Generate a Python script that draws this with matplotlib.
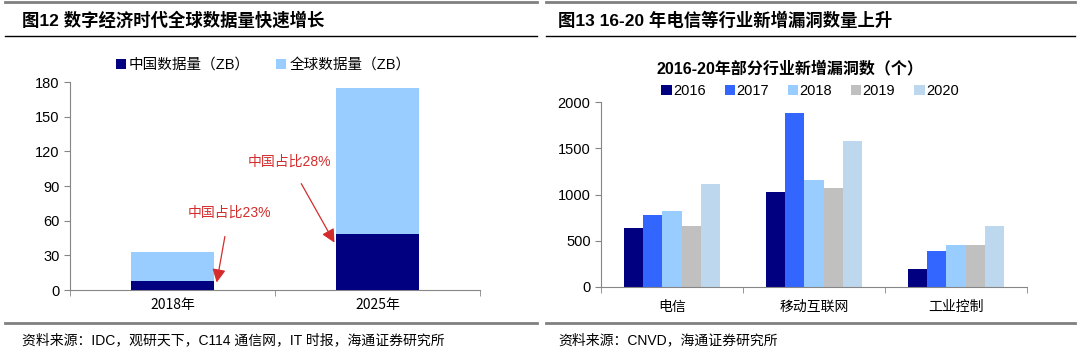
import numpy as np
import matplotlib.pyplot as plt
from matplotlib.lines import Line2D

plt.rcParams['font.family'] = ['Liberation Sans', 'Noto Sans CJK SC', 'DejaVu Sans']
CJK = ['Noto Sans CJK SC', 'DejaVu Sans']

# left chart data
years = ['2018年', '2025年']
global_zb = [33, 175]
china_zb = [7.6, 48.6]
share_labels = ['中国占比23%', '中国占比28%']

# right chart data
industries = ['电信', '移动互联网', '工业控制']
series_years = ['2016', '2017', '2018', '2019', '2020']
vulns = {
    '2016': [640, 1031, 190],
    '2017': [782, 1881, 393],
    '2018': [818, 1160, 454],
    '2019': [659, 1070, 454],
    '2020': [1114, 1575, 659],
}
colors_r = ['#000080', '#3366ff', '#99ccff', '#c0c0c0', '#bdd7ee']

fig = plt.figure(figsize=(10.8, 3.55), dpi=100)

# frame lines and titles
def hline(y, x0, x1, color, lw):
    fig.add_artist(Line2D([x0 / 1080, x1 / 1080], [1 - y / 355, 1 - y / 355],
                          color=color, lw=lw, transform=fig.transFigure))

for x0, x1 in [(5, 537), (546, 1075)]:
    hline(2, x0, x1, '#808080', 2)
    hline(36, x0, x1, '#000000', 1)
    hline(323, x0, x1, '#808080', 2)

fig.text(22 / 1080, 1 - 20 / 355, '图12 数字经济时代全球数据量快速增长', fontsize=12.5,
         fontweight='bold', va='center', ha='left')
fig.text(558 / 1080, 1 - 20 / 355, '图13 16-20 年电信等行业新增漏洞数量上升', fontsize=12.5,
         fontweight='bold', va='center', ha='left')
fig.text(22 / 1080, 1 - 340 / 355, '资料来源：IDC，观研天下，C114 通信网，IT 时报，海通证券研究所',
         fontsize=10, va='center', ha='left')
fig.text(558 / 1080, 1 - 340 / 355, '资料来源：CNVD，海通证券研究所',
         fontsize=10, va='center', ha='left')

spine_c = '#868686'

# ---- left chart
ax1 = fig.add_axes([70 / 1080, 1 - 290 / 355, 410 / 1080, 208 / 355])
x = np.arange(len(years))
w = 0.405
ax1.bar(x, global_zb, w, color='#99ccff', label='全球数据量（ZB）', zorder=2)
ax1.bar(x, china_zb, w, color='#000080', label='中国数据量（ZB）', zorder=3)
ax1.set_xlim(-0.5, 1.5)
ax1.set_ylim(0, 180)
ax1.set_yticks(np.arange(0, 181, 30))
ax1.set_xticks(x)
ax1.set_xticklabels(years, family=CJK, fontsize=10)
ax1.set_xticks([-0.5, 0.5, 1.5], minor=True)
ax1.tick_params(axis='x', which='major', length=0, pad=6)
ax1.tick_params(axis='x', which='minor', length=4, color=spine_c)
ax1.tick_params(axis='y', length=4, color=spine_c, labelsize=10.5)
for s in ['top', 'right']:
    ax1.spines[s].set_visible(False)
for s in ['left', 'bottom']:
    ax1.spines[s].set_color(spine_c)

red = '#d42c2c'
ax1.annotate(share_labels[0], xy=(0.2155, 6.5), xytext=(0.276, 66.6),
             color=red, fontsize=10, ha='center', va='center',
             arrowprops=dict(arrowstyle='-|>', color=red, lw=0.9, mutation_scale=20,
                             shrinkA=10, shrinkB=0))
ax1.annotate(share_labels[1], xy=(0.79, 41), xytext=(0.568, 111),
             color=red, fontsize=10, ha='center', va='center',
             arrowprops=dict(arrowstyle='-|>', color=red, lw=0.9, mutation_scale=20,
                             shrinkA=10, shrinkB=0))

h, l = ax1.get_legend_handles_labels()
fig.legend(h[::-1], l[::-1], loc='center', bbox_to_anchor=(263 / 1080, 1 - 65 / 355),
           ncol=2, frameon=False, fontsize=10.5, handlelength=0.7, handleheight=0.7,
           handletextpad=0.2, columnspacing=1.8)

# ---- right chart
ax2 = fig.add_axes([601 / 1080, 1 - 287 / 355, 426 / 1080, 185 / 355])
xr = np.arange(len(industries))
bw = 0.135
for i, yr in enumerate(series_years):
    ax2.bar(xr + (i - 2) * bw, vulns[yr], bw, color=colors_r[i], label=yr, zorder=2)
ax2.set_xlim(-0.5, 2.5)
ax2.set_ylim(0, 2000)
ax2.set_yticks(np.arange(0, 2001, 500))
ax2.set_xticks(xr)
ax2.set_xticklabels(industries, family=CJK, fontsize=10)
ax2.set_xticks([-0.5, 0.5, 1.5, 2.5], minor=True)
ax2.tick_params(axis='x', which='major', length=0, pad=9)
ax2.tick_params(axis='x', which='minor', length=4, color=spine_c)
ax2.tick_params(axis='y', length=4, color=spine_c, labelsize=10.5)
for s in ['top', 'right']:
    ax2.spines[s].set_visible(False)
for s in ['left', 'bottom']:
    ax2.spines[s].set_color(spine_c)

fig.text(790 / 1080, 1 - 68 / 355, '2016-20年部分行业新增漏洞数（个）', fontsize=11.5,
         fontweight='bold', ha='center', va='center')
fig.legend(*ax2.get_legend_handles_labels(), loc='center',
           bbox_to_anchor=(810 / 1080, 1 - 91 / 355), ncol=5, frameon=False,
           fontsize=10.5, handlelength=0.7, handleheight=0.7, handletextpad=0.1,
           columnspacing=1.3)

fig.savefig('out.png', dpi=100)
